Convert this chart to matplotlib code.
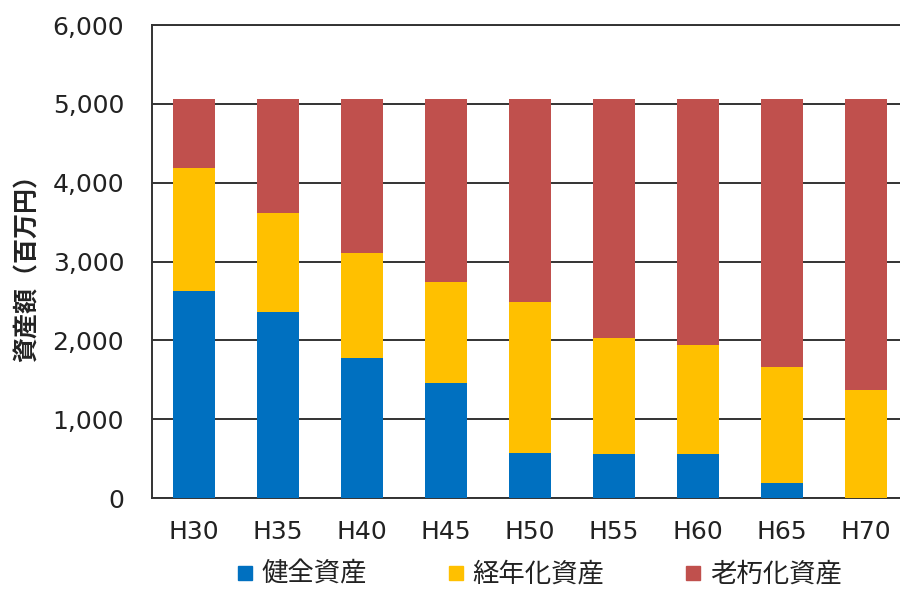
import matplotlib
matplotlib.use("Agg")
import matplotlib.pyplot as plt
from matplotlib.lines import Line2D
from matplotlib.ticker import FuncFormatter, MultipleLocator

plt.rcParams['font.family'] = ['DejaVu Sans', 'Noto Sans CJK JP']

categories = ["H30", "H35", "H40", "H45", "H50", "H55", "H60", "H65", "H70"]
healthy = [2620, 2360, 1770, 1460, 575, 560, 560, 185, 0]
aging = [1560, 1250, 1340, 1275, 1915, 1475, 1380, 1480, 1370]
deteriorated = [880, 1450, 1950, 2325, 2570, 3025, 3120, 3395, 3690]
series_names = ["健全資産", "経年化資産", "老朽化資産"]
colors = ["#0070C0", "#FFC000", "#C0504D"]

fig = plt.figure(figsize=(9, 5.91), dpi=100)
ax = fig.add_axes([152 / 900, 1 - 498 / 591, 756 / 900, 473 / 591])

x = list(range(len(categories)))
bottom = [0] * len(categories)
for vals, col in zip([healthy, aging, deteriorated], colors):
    ax.bar(x, vals, width=0.5, bottom=bottom, color=col, zorder=3)
    bottom = [b + v for b, v in zip(bottom, vals)]

ax.set_xlim(-0.5, len(categories) - 0.5)
ax.set_ylim(0, 6000)
ax.yaxis.set_major_locator(MultipleLocator(1000))
ax.yaxis.set_major_formatter(FuncFormatter(lambda v, p: f"{int(v):,}"))
ax.set_xticks(x)
ax.set_xticklabels(categories)
ax.tick_params(axis="both", length=0, labelsize=18, colors="#222222")
ax.tick_params(axis="x", pad=16)
ax.tick_params(axis="y", pad=20)
ax.grid(axis="y", color="#333333", linewidth=1.4, zorder=1)
for s in ["left", "bottom", "top"]:
    ax.spines[s].set_color("#333333")
    ax.spines[s].set_linewidth(1.4)
ax.spines["right"].set_visible(False)

ax.set_ylabel("資産額（百万円）", fontsize=18, fontweight="bold", labelpad=9,
              color="#222222", family=["Noto Sans CJK JP", "DejaVu Sans"])

handles = [Line2D([0], [0], marker="s", linestyle="none", markersize=10,
                  markerfacecolor=c, markeredgecolor=c) for c in colors]
fig.legend(handles, series_names, loc="center", bbox_to_anchor=(0.598, 0.028),
           ncol=3, frameon=False, handlelength=0.75, handletextpad=0.25,
           columnspacing=3.0, labelcolor="#222222",
           prop={"family": ["Noto Sans CJK JP", "DejaVu Sans"], "size": 19})

fig.savefig("out.png", dpi=100)
